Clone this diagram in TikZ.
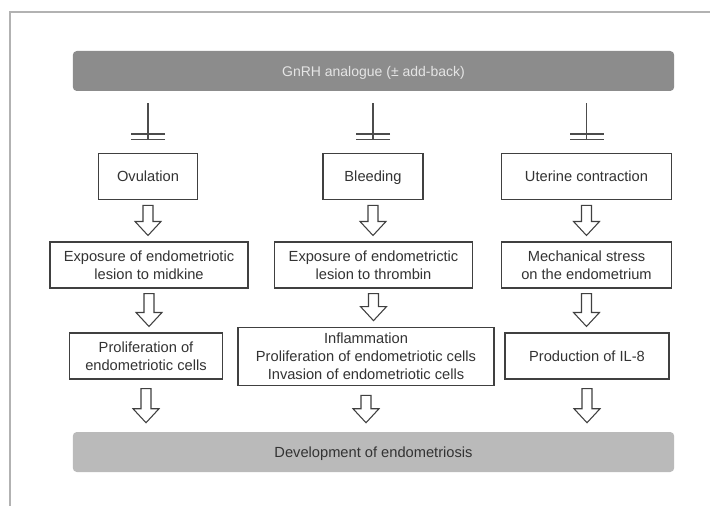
\documentclass[tikz,border=0pt]{standalone}
\usepackage{fontspec}
\setmainfont{Liberation Sans}
\usetikzlibrary{calc,arrows.meta}

\begin{document}
\begin{tikzpicture}[x=0.75pt,y=-0.75pt,
					every node/.style={font=\fontsize{11}{13.5}\selectfont,text=black!80,align=center},
					stepbox/.style={draw=black!75,line width=0.8pt,inner sep=2pt},
					oneline/.style={text height=7.9pt,text depth=0pt},
					bar/.style={rounded corners=3pt,minimum width=451pt,minimum height=30pt,inner sep=0pt,oneline},
					inhib/.style={draw=black!70,line width=0.8pt,-{Bar[width=25.5pt,sep=3pt]Bar[width=25.5pt]}},
					hollow/.style={draw=black!75,line width=0.8pt,fill=white,line join=miter,to path={
						let \p1=(\tikztostart), \p2=(\tikztotarget) in
						(\x1-3.75pt,\y1) -- (\x1+3.75pt,\y1) -- (\x1+3.75pt,\y2+10.5pt) -- (\x1+9.75pt,\y2+10.5pt)
						-- (\x1,\y2) -- (\x1-9.75pt,\y2+10.5pt) -- (\x1-3.75pt,\y2+10.5pt) -- cycle}}]
					\path[use as bounding box,fill=white] (0,0) rectangle (710,506);
					\draw[black!30,line width=0.8pt] (10,506) -- (10,12) -- (710,12);
					\node[bar,fill=black!45,text=white!90!black,font=\fontsize{10.5}{12}\selectfont] (gnrh) at (373.5,71) {GnRH analogue (± add-back)};
					\node[stepbox,oneline,minimum width=74pt,minimum height=35pt] (ovu) at (148,176.5) {Ovulation};
					\node[stepbox,oneline,minimum width=75pt,minimum height=35pt] (bleed) at (373,176.5) {Bleeding};
					\node[stepbox,oneline,minimum width=128pt,minimum height=35pt] (uter) at (586.5,176.5) {Uterine contraction};
					\node[stepbox,minimum width=148.5pt,minimum height=34.5pt] (mid) at (149,265) {Exposure of endometriotic\\lesion to midkine};
					\node[stepbox,minimum width=149pt,minimum height=34.5pt] (thr) at (373.5,265) {Exposure of endometrictic\\lesion to thrombin};
					\node[stepbox,minimum width=128pt,minimum height=34.5pt] (mech) at (586.5,265) {Mechanical stress\\on the endometrium};
					\node[stepbox,minimum width=115pt,minimum height=34.5pt] (prol) at (146,356) {Proliferation of\\endometriotic cells};
					\node[stepbox,minimum width=192pt,minimum height=44pt] (infl) at (366,356.5) {Inflammation\\Proliferation of endometriotic cells\\Invasion of endometriotic cells};
					\node[stepbox,oneline,minimum width=123pt,minimum height=34.5pt] (il8) at (587,356) {Production of IL-8};
					\node[bar,fill=black!27] (devel) at (373.5,452) {Development of endometriosis};
					\foreach \n in {ovu,bleed,uter}
						\draw[inhib] ($(gnrh.south -| \n.north)+(0,12)$) -- ($(\n.north)+(0,-13)$);
					\foreach \a/\b in {ovu/mid,bleed/thr,uter/mech}
						\draw[hollow] ($(\a.south)+(0,5)$) to ($(\b.north)+(0,-6)$);
					\foreach \a/\b in {mid/prol,thr/infl,mech/il8}
						\draw[hollow] ($(\a.south)+(0,5)$) to ($(\a.south |- \b.north)+(0,-6)$);
					\foreach \a in {prol,infl,il8}
						\draw[hollow] ($(\a.south)+(0,9)$) to ($(\a.south |- devel.north)+(0,-9)$);
					\end{tikzpicture}
\end{document}
